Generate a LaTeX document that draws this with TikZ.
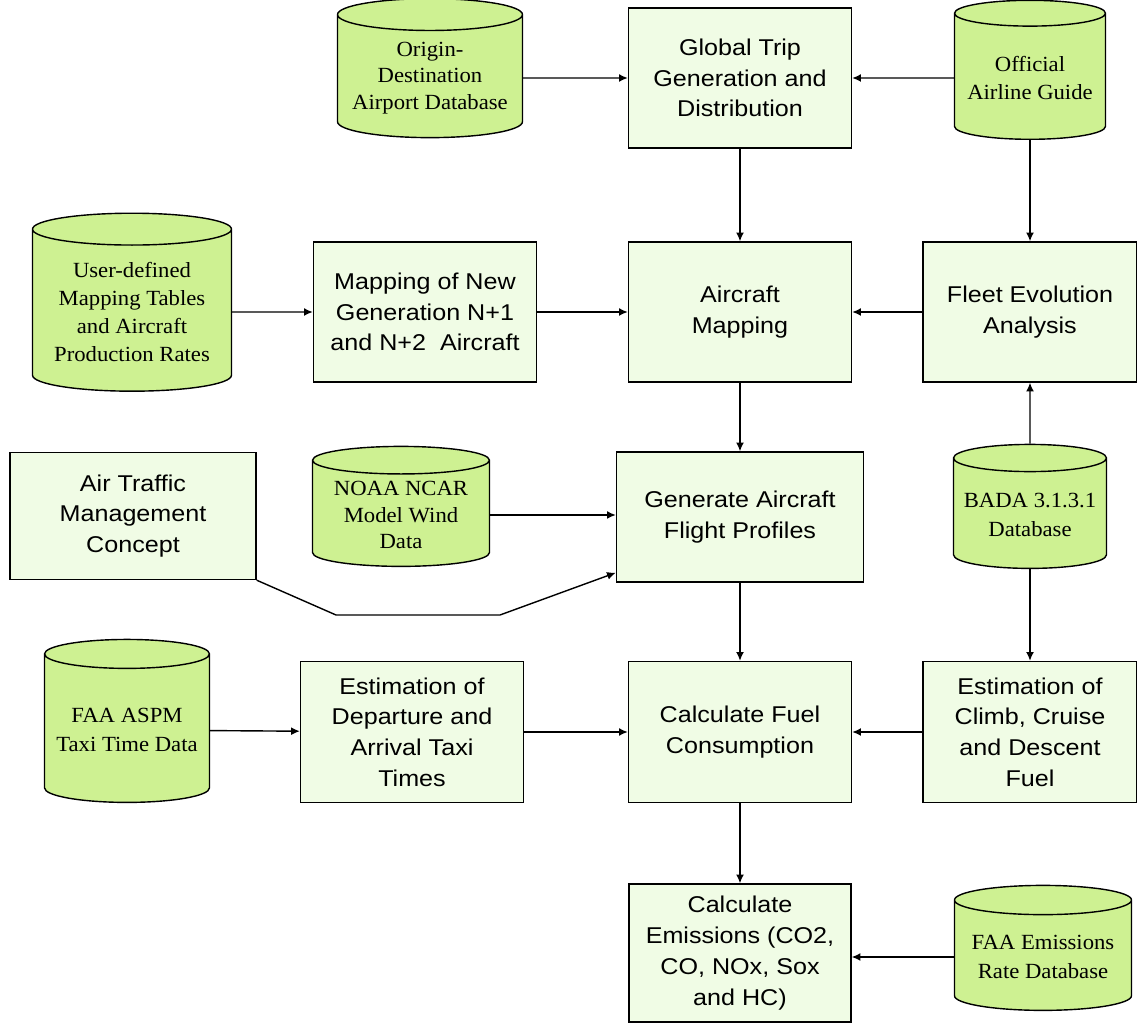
\documentclass[tikz,border=0pt]{standalone}
\usepackage{fontspec}
\setmainfont{Liberation Sans}[FakeStretch=1.1]
\newfontfamily\dbfont{Liberation Serif}[FakeStretch=1.05]
\usetikzlibrary{arrows.meta, shapes.geometric}
\definecolor{boxgreen}{RGB}{240,252,229}
\definecolor{dbgreen}{RGB}{206,241,146}
\tikzset{
  procbox/.style={draw, line width=0.8pt, fill=boxgreen, align=center, inner sep=2pt,
    font=\fontsize{13}{17.5}\selectfont},
  datacyl/.style={cylinder, shape border rotate=90, aspect=0.2, draw, line width=0.8pt,
    fill=dbgreen, align=center, inner sep=1pt, font=\dbfont\fontsize{12.3}{16}\selectfont},
  flow/.style={-{Latex[length=5pt,width=4.5pt]}, line width=0.8pt}
}

\begin{document}
\begin{tikzpicture}[x=0.02cm, y=-0.02cm]
  \useasboundingbox (0,0) rectangle (1137,1023);
  % Colonne centrale
  \node[procbox, minimum width=4.46cm, minimum height=2.8cm] (trips) at (740,78) {Global Trip\\Generation and\\Distribution};
  \node[procbox, minimum width=4.46cm, minimum height=2.8cm] (acmap) at (740,312) {Aircraft\\Mapping};
  \node[procbox, minimum width=4.94cm, minimum height=2.6cm] (profiles) at (740,517) {Generate Aircraft\\Flight Profiles};
  \node[procbox, minimum width=4.46cm, minimum height=2.82cm] (fuel) at (740,732) {Calculate Fuel\\Consumption};
  \node[procbox, minimum width=4.44cm, minimum height=2.76cm] (emis) at (740,953) {Calculate\\Emissions (CO2,\\CO, NOx, Sox\\and HC)};
  % Autres boites
  \node[procbox, minimum width=4.46cm, minimum height=2.8cm] (newgen) at (425,312) {Mapping of New\\Generation N+1\\and N+2\ \ Aircraft};
  \node[procbox, minimum width=4.28cm, minimum height=2.8cm] (fleet) at (1030,312) {Fleet Evolution\\Analysis};
  \node[procbox, minimum width=4.92cm, minimum height=2.54cm] (atm) at (133,516) {Air Traffic\\Management\\Concept};
  \node[procbox, minimum width=4.46cm, minimum height=2.82cm] (taxi) at (412,732) {Estimation of\\Departure and\\Arrival Taxi\\Times};
  \node[procbox, minimum width=4.28cm, minimum height=2.82cm] (climb) at (1030,732) {Estimation of\\Climb, Cruise\\and Descent\\Fuel};
  % Bases de donnees
  \node[datacyl, minimum width=3.7cm, minimum height=2.78cm, font=\dbfont\fontsize{12.3}{15}\selectfont] (oddb) at (430,78) {Origin-\\Destination\\Airport Database};
  \node[datacyl, minimum width=3.02cm, minimum height=2.78cm] (oag) at (1030,78) {Official\\Airline Guide};
  \node[datacyl, minimum width=3.98cm, minimum height=3.56cm] (tables) at (132,312) {User-defined\\Mapping Tables\\and Aircraft\\Production Rates};
  \node[datacyl, minimum width=3.54cm, minimum height=2.4cm, font=\dbfont\fontsize{12.3}{15}\selectfont] (wind) at (401,515) {NOAA NCAR\\Model Wind\\Data};
  \node[datacyl, minimum width=3.06cm, minimum height=2.48cm] (bada) at (1030,515) {BADA 3.1.3.1\\Database};
  \node[datacyl, minimum width=3.3cm, minimum height=3.26cm] (aspm) at (127,730) {FAA ASPM\\Taxi Time Data};
  \node[datacyl, minimum width=3.54cm, minimum height=2.5cm] (emdb) at (1043,957) {FAA Emissions\\Rate Database};
  % Fleches
  \draw[flow] (oddb) -- (trips);
  \draw[flow] (oag) -- (trips);
  \draw[flow] (trips) -- (acmap);
  \draw[flow] (oag) -- (fleet);
  \draw[flow] (tables) -- (newgen);
  \draw[flow] (newgen) -- (acmap);
  \draw[flow] (fleet) -- (acmap);
  \draw[flow] (bada) -- (fleet);
  \draw[flow] (acmap) -- (profiles);
  \draw[flow] (wind.east) -- (wind.east -| profiles.west);
  \coordinate (atmA) at (336,615);
  \coordinate (atmB) at (500,615);
  \draw[flow] (atm.south east) -- (atmA) -- (atmB) -- ([yshift=0.2cm]profiles.south west);
  \draw[flow] (profiles) -- (fuel);
  \draw[flow] (bada) -- (climb);
  \draw[flow] (aspm) -- (taxi);
  \draw[flow] (taxi) -- (fuel);
  \draw[flow] (climb) -- (fuel);
  \draw[flow] (fuel) -- (emis);
  \draw[flow] (emdb.west) -- (emdb.west -| emis.east);
\end{tikzpicture}
\end{document}
